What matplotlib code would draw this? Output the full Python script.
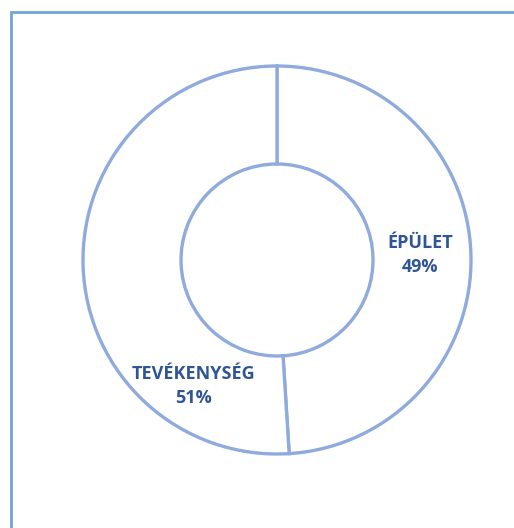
import matplotlib
matplotlib.use("Agg")
import matplotlib.pyplot as plt
from matplotlib.patches import Rectangle

categories = ["ÉPÜLET", "TEVÉKENYSÉG"]
values = [49, 51]
pct_labels = ["49%", "51%"]

W, H = 514, 528
fig = plt.figure(figsize=(W / 100, H / 100), dpi=100)
ax = fig.add_axes([0, 0, 1, 1])

cx, cy, R = 277, 260, 194
ax.axis("off")

edge = "#8FAADC"
ax.pie(values, startangle=90, counterclock=False, radius=1.0,
       colors=["white", "white"],
       wedgeprops=dict(width=1 - 96 / R, edgecolor=edge, linewidth=2.4))
ax.set_aspect("auto")
ax.set_xlim(-cx / R, (W - cx) / R)
ax.set_ylim(-(H - cy) / R, cy / R)

label_pos = [((420 - cx) / R, (cy - 255) / R), ((193 - cx) / R, (cy - 386) / R)]
txt_color = "#2F5597"
for (x, y), c, p in zip(label_pos, categories, pct_labels):
    ax.text(x, y, f"{c}\n{p}", ha="center", va="center", color=txt_color,
            fontsize=13, fontweight="bold", family=["Open Sans", "DejaVu Sans"],
            linespacing=1.45)

fig.patches.append(Rectangle((11 / W, -0.1), 1.2, 1 - 12 / H + 0.1,
                             transform=fig.transFigure, fill=False,
                             edgecolor="#6FA3DC", linewidth=2.0))

fig.savefig("out.png", dpi=100, facecolor="white")
